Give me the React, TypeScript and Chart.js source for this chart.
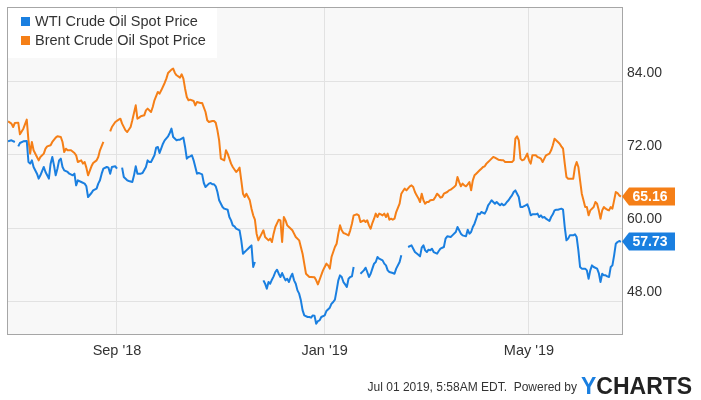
import React, { useEffect, useRef } from 'react';
import { Chart, registerables } from 'chart.js';

Chart.register(...registerables);

const FONT = "'Liberation Sans', Arial, Helvetica, sans-serif";

// x values are days counted from 2018-07-01 (day 0)
const START_DATE = '2018-07-01';

const seriesNames = ['WTI Crude Oil Spot Price', 'Brent Crude Oil Spot Price'];
const seriesColors = ['#1a7fe0', '#f57f17'];

const wtiDays = [
  -2, 0, 2, 3, 4, 5, 7, 9, 10, 11, 12, 13, 15, 16, 17, 19, 20, 21, 22, 23, 24, 25, 26, 27, 28, 29, 30,
  31, 33, 34, 36, 37, 38, 39, 41, 43, 44, 45, 47, 48, 50, 51, 52, 53, 54, 56, 57, 58, 59, 61,
  62, 63, 65, 66, 68, 69, 71, 72, 73, 74, 76, 77, 79, 80, 81, 82, 84, 85, 86, 87, 89, 90,
  92, 93, 94, 95, 97, 98, 99, 101, 102, 103, 104, 105, 106, 107, 108, 109, 110, 111, 112, 113, 114, 116, 117, 118, 119, 120, 121, 122,
  124, 125, 127, 128, 129, 130, 131, 132, 134, 135, 136, 137, 138, 139, 140, 141, 142, 143, 145, 148, 149, 150, 151, 152,
  153, 154, 155, 156, 157, 158, 159, 160, 161, 162, 163, 164, 165, 166, 167, 168, 169, 170, 171, 172, 174, 175, 176, 177, 178, 179, 180, 181, 182,
  184, 185, 187, 188, 189, 190, 191, 192, 193, 194, 195, 196, 197, 198, 199, 200, 201, 203, 205, 207, 208, 209, 210, 211, 212, 213, 214,
  215, 216, 218, 219, 220, 221, 222, 224, 225, 226, 228, 229, 231, 233, 235, 236, 237, 239, 240, 241, 242,
  243, 244, 245, 246, 247, 248, 250, 251, 252, 254, 255, 256, 258, 259, 261, 262, 263, 264, 265, 267, 268, 269, 270, 271, 272, 273,
  274, 275, 276, 278, 279, 280, 281, 282, 283, 284, 285, 286, 287, 288, 289, 290, 291, 292, 293, 294, 295, 296, 297, 298, 299, 300, 302, 303,
  304, 305, 306, 308, 309, 310, 311, 312, 313, 314, 316, 317, 318, 319, 320, 321, 323, 324, 325, 326, 327, 328, 330, 331, 332, 333, 334,
  335, 337, 338, 339, 340, 341, 342, 344, 345, 346, 347, 348, 349, 350, 351, 352, 353, 354, 355, 356, 357, 358,
];
const wtiPrices = [
  74.25, 74.41, 74.14, null, 73.42, 73.97, 74.25, 74.3, 70.85, 70.58, 71.12, 70.03, 68.93, 68.11, 68.66, 70.03, 69.21, 68.66, 68.11, 70.58, 71.67, 70.3, 68.66, 69.75, 71.12, 71.4, 70.03,
  69.48, 69.21, 68.93, 68.66, 68.93, 67.01, 67.84, 67.56, 67.29, 66.85, 65.1, 65.75, 66.19, 66.47, 67.29, 67.84, 68.93, 69.75, 70.03, 69.92, 68.93, 70.03, 70.14,
  69.75, null, 69.92, 68.38, 67.84, 67.73, 67.56, 68.66, 70.14, 68.93, 68.93, 69.04, 70.03, 71.12, 70.85, 70.85, 71.95, 73.21, 73.32, 72.33, 73.86, 74.41,
  75.07, 75.62, 76.33, 74.96, 74.41, 74.52, 74.52, 74.85, 73.32, 71.4, 71.67, 71.78, 71.95, 71.12, 70.03, 68.93, 69.04, 68.93, 68.82, 67.4, 66.74, 67.29, 67.4, 67.18, 67.18, 66.85, 65.92, 64.55,
  63.45, 63.18, 63.01, 61.81, 61.26, 60.44, 60.27, 59.89, 59.62, 57.97, 55.78, 56.05, 56.33, 56.6, 56.88, 57.15, 53.59, 54.41, null, 51.4, 50.85, 50.03, 51.12, 50.85,
  51.51, 52.05, 52.77, 53.15, 52.49, 51.95, 52.6, 51.95, 51.4, 51.67, 51.12, 51.95, 52.49, 51.4, 50.85, 49.75, 49.21, 48.11, 46.5, 45.64, 45.37, 45.37, 45.26, 45.64, 45.6, 44.27, 44.7, 44.82, 45.37,
  45.64, 46.36, 46.9, 47.56, 47.84, 48.22, 49.75, 51.4, 52.22, 51.95, 51.12, 50.74, 50.3, 51.67, 51.95, 52.05, 53.59, null, 52.49, 53.04, 53.48, 52.77, 51.95, 52.49, 53.32, 54.14, 54.41,
  55.23, 54.96, 54.68, 54.14, 53.86, 53.04, 52.77, 52.6, 52.49, 53.32, 54.41, 55.51, null, 56.88, 57.15, 56.6, 56.05, 55.6, 55.34, 56.77, 57.15,
  56.33, 56.05, 56.44, 56.33, 56.6, 56.05, 55.78, 56.22, 56.6, 56.88, 58.25, 58.63, 58.52, 58.79, 59.34, 60.16, 59.62, 59.07, 58.79, 58.63, 59.73, 59.07, 59.34, 60.16, 60.71, 61.53,
  62.36, 62.25, 62.63, 62.36, 62.9, 63.73, 64.11, 64.55, 64.27, 64.0, 64.27, 64.0, 63.73, 64.0, 63.73, 63.89, 64.27, 64.55, 64.99, 65.37, 65.92, 66.19, 65.64, 65.1, 63.45, 63.45, 63.73, 63.89,
  63.18, 62.08, 62.25, 62.25, 62.36, 61.81, 62.08, 61.7, 61.81, 61.53, 61.15, 61.81, 62.25, 62.9, 63.01, 63.01, 63.18, 63.01, 60.16, 57.97, 58.25, 58.79, 58.79, 58.96, 58.52, 56.33, 53.59,
  53.32, 53.32, 53.04, 51.67, 53.04, 53.86, 53.59, 53.32, 52.6, 51.12, 52.49, 52.22, 52.22, 52.05, 51.95, 53.59, 53.86, 55.51, 57.42, 57.7, 57.86, 57.73,
];

const brentDays = [
  -2, 0, 1, 2, 4, 5, 7, 9, 10, 11, 12, 13, 15, 16, 17, 19, 20, 21, 23, 24, 26, 27, 29, 30,
  31, 32, 33, 35, 37, 38, 39, 41, 42, 43, 44, 45, 47, 48, 50, 51, 52, 54, 56, 58, 59, 61,
  63, 64, 65, 67, 68, 70, 71, 73, 74, 75, 76, 78, 79, 80, 82, 83, 84, 86, 87, 88, 90, 91,
  92, 94, 95, 96, 97, 99, 100, 101, 102, 103, 104, 105, 107, 108, 109, 111, 112, 114, 115, 116, 118, 119, 120, 121, 122,
  123, 125, 126, 127, 129, 130, 132, 133, 134, 135, 136, 137, 138, 139, 140, 141, 142, 143, 144, 145, 147, 148, 149, 151, 152,
  153, 154, 155, 157, 158, 159, 160, 161, 162, 163, 165, 166, 167, 169, 170, 171, 172, 173, 175, 176, 178, 179, 180, 181, 183,
  184, 185, 186, 187, 188, 189, 190, 191, 192, 193, 194, 195, 196, 198, 199, 200, 201, 203, 204, 205, 207, 208, 209, 210, 211, 212, 213, 214,
  215, 216, 217, 218, 219, 220, 221, 222, 223, 224, 225, 226, 228, 229, 230, 231, 232, 234, 235, 236, 237, 238, 239, 240, 241, 242,
  243, 244, 245, 246, 248, 249, 250, 251, 252, 253, 254, 256, 257, 258, 260, 261, 262, 263, 264, 265, 266, 267, 268, 269, 270, 271, 272, 273,
  274, 275, 276, 277, 278, 279, 280, 281, 282, 283, 284, 285, 286, 288, 289, 290, 291, 293, 294, 295, 296, 297, 298, 299, 300, 301, 302, 303,
  304, 305, 306, 308, 309, 310, 311, 312, 313, 314, 316, 317, 318, 319, 321, 322, 323, 324, 325, 326, 327, 328, 330, 331, 332, 333, 334,
  335, 336, 337, 338, 339, 340, 342, 343, 344, 345, 346, 347, 348, 349, 350, 351, 352, 353, 354, 355, 356, 357, 358,
];
const brentPrices = [
  77.53, 77.15, 76.6, 77.26, 77.32, 75.4, 76.33, 77.81, 74.41, 72.22, 74.14, 72.77, 71.67, 71.12, 71.67, 72.22, 73.04, 73.42, 73.59, 74.14, 74.85, 75.07, 74.96, 74.14,
  72.49, 73.04, 72.77, 72.77, 72.33, 71.95, 70.85, 71.12, 70.58, 70.85, 69.92, 68.66, 70.14, 70.68, 71.12, 71.67, 72.77, 74.14, null, 75.9, 76.6, 77.42,
  77.81, 77.97, 77.15, 76.05, 75.78, 76.6, 77.7, 80.16, 77.97, 78.14, 78.36, 78.52, 79.34, 79.62, 79.07, 79.89, 80.99, 82.36, 82.08, 82.63, 83.84, 84.55,
  85.48, 86.03, 86.19, 85.48, 85.1, 84.71, 85.26, 84.55, 82.9, 81.53, 80.99, 81.1, 80.88, 80.16, 80.71, 80.55, 80.55, 79.07, 77.7, 77.42, 77.59, 77.59, 77.3, 76.05, 74.41,
  71.4, 71.12, 72.77, 72.22, 70.58, 70.03, 69.21, 69.48, 69.92, 67.84, 65.64, 65.1, 65.64, 65.1, 64.55, 63.18, 62.08, 61.37, 59.07, 57.97, 59.07, 59.62, 58.52, 57.97, 58.25,
  57.7, 59.07, 60.16, 61.37, 61.26, 57.7, 61.81, 61.26, 60.44, 60.16, 59.62, 59.07, 58.52, 57.97, 56.88, 55.78, 54.14, 52.49, 51.95, 51.95, 51.9, 51.4, 50.74, 51.5, 53.04,
  53.59, 54.14, 53.86, 53.32, 55.23, 56.05, 56.88, 57.42, 59.07, 60.44, 59.62, 59.18, 59.07, 58.79, 59.62, 60.71, 62.08, 62.25, 62.08, 60.99, 61.26, 60.99, 61.26, 60.44, 59.89, 60.82, 61.53, 62.36,
  61.81, 62.36, 62.25, 62.08, 62.36, 61.81, 62.36, 61.37, 61.53, 61.37, 61.53, 62.63, 64.0, 65.64, 66.08, 66.47, 66.19, 66.85, 67.01, 66.74, 65.92, 65.37, 64.9, 64.27, 65.64, 64.55,
  64.0, 64.27, 64.27, 64.55, 64.66, 65.1, 65.64, 65.37, 64.99, 65.1, 65.64, 65.92, 66.19, 66.3, 66.74, 67.01, 68.38, 67.56, 66.85, 67.29, 67.01, 66.85, 67.18, 67.56, 66.19, 67.84, 68.66, 68.93,
  69.21, 69.48, 69.75, 70.03, 70.14, 70.58, 70.85, 71.12, 71.4, 71.67, 71.56, 71.4, 71.23, 71.12, 71.12, 70.85, 70.85, 70.85, 70.85, 71.12, 74.68, 75.07, 74.41, 71.4, 71.12, 71.23, 71.67, 72.22,
  71.12, 70.58, 71.95, 71.95, 71.67, 71.56, 71.4, 70.85, 71.4, 71.95, 72.22, 72.77, 73.6, 74.68, 74.14, 73.86, 73.42, 73.04, 70.6, 68.38, 68.11, 68.11, 68.11, 70.03, 70.85, 70.03, 67.84,
  65.64, 64.55, 63.45, 63.45, 62.08, 62.9, 63.45, 64.27, 64.0, 62.9, 61.53, 62.9, 63.45, 63.18, 63.01, 62.9, 63.45, 63.18, 64.55, 65.92, 65.75, 65.37, 65.16,
];

const xTickDays = [62, 184, 304];
const xTickLabels = ["Sep '18", "Jan '19", "May '19"];
const yTicks = [48, 60, 72, 84];
const footerText = 'Jul 01 2019, 5:58AM EDT.  Powered by';
const logoParts = ['Y', 'CHARTS'];

const X_MIN = -2.02;
const X_MAX = 358.63;
const Y_MIN = 42.58;
const Y_MAX = 96.16;

const decorPlugin = {
  id: 'ychartsDecor',
  beforeDraw(chart: any) {
    const { ctx, chartArea: a } = chart;
    ctx.save();
    ctx.fillStyle = '#f8f8f8';
    ctx.fillRect(a.left, a.top, a.right - a.left, a.bottom - a.top);
    ctx.fillStyle = 'rgba(255,255,255,0.92)';
    ctx.fillRect(a.left, a.top, 209, 50);
    ctx.restore();
  },
  afterDraw(chart: any) {
    const { ctx, chartArea: a } = chart;
    ctx.save();
    // plot frame
    ctx.strokeStyle = '#a6a6a6';
    ctx.lineWidth = 1;
    ctx.strokeRect(a.left - 0.5, a.top - 0.5, a.right - a.left + 1, a.bottom - a.top + 1);

    // legend
    ctx.font = `14.5px ${FONT}`;
    ctx.textBaseline = 'middle';
    ctx.textAlign = 'left';
    chart.data.datasets.forEach((ds: any, i: number) => {
      const y = a.top + 13.5 + i * 19;
      ctx.fillStyle = ds.borderColor;
      ctx.fillRect(a.left + 13, y - 4.5, 9, 9);
      ctx.fillStyle = '#333';
      ctx.fillText(ds.label, a.left + 27, y + 0.5);
    });

    // last-value tags
    const ys = chart.scales.y;
    chart.data.datasets.forEach((ds: any) => {
      const pts = ds.data.filter((p: any) => p.y !== null);
      const last = pts[pts.length - 1].y;
      const y = Math.round(ys.getPixelForValue(last)) - 0.5;
      const x0 = a.right;
      ctx.fillStyle = ds.borderColor;
      ctx.beginPath();
      ctx.moveTo(x0, y);
      ctx.lineTo(x0 + 7, y - 9);
      ctx.lineTo(x0 + 53, y - 9);
      ctx.lineTo(x0 + 53, y + 9);
      ctx.lineTo(x0 + 7, y + 9);
      ctx.closePath();
      ctx.fill();
      ctx.font = `bold 14px ${FONT}`;
      ctx.fillStyle = '#ffffff';
      ctx.textAlign = 'left';
      ctx.textBaseline = 'middle';
      ctx.fillText(last.toFixed(2), x0 + 10.5, y + 1);
    });

    // footer
    ctx.textBaseline = 'alphabetic';
    ctx.textAlign = 'right';
    ctx.font = `12px ${FONT}`;
    ctx.fillStyle = '#333';
    ctx.fillText(footerText, 577, 391);
    ctx.textAlign = 'left';
    ctx.font = `bold 23px ${FONT}`;
    ctx.fillStyle = '#1a7fe0';
    ctx.fillText(logoParts[0], 581, 394);
    const w = ctx.measureText(logoParts[0]).width;
    ctx.fillStyle = '#222';
    ctx.fillText(logoParts[1], 581 + w, 394);
    ctx.restore();
  },
};

export default function App() {
  const ref = useRef<HTMLCanvasElement>(null);

  useEffect(() => {
    document.body.style.margin = '0';
    const canvas = ref.current;
    if (!canvas) return;
    const toPoints = (days: number[], prices: (number | null)[]) =>
      days.map((d, i) => ({ x: d, y: prices[i] }));

    const chart = new Chart(canvas, {
      type: 'line',
      data: {
        datasets: [
          {
            label: seriesNames[0],
            data: toPoints(wtiDays, wtiPrices) as any,
            borderColor: seriesColors[0],
            backgroundColor: seriesColors[0],
            borderWidth: 2,
            pointRadius: 0,
            tension: 0,
            spanGaps: false,
            borderJoinStyle: 'round',
          },
          {
            label: seriesNames[1],
            data: toPoints(brentDays, brentPrices) as any,
            borderColor: seriesColors[1],
            backgroundColor: seriesColors[1],
            borderWidth: 2,
            pointRadius: 0,
            tension: 0,
            spanGaps: false,
            borderJoinStyle: 'round',
          },
        ],
      },
      options: {
        animation: false,
        responsive: false,
        devicePixelRatio: 1,
        events: [],
        layout: { padding: { left: 8, top: 8, right: 0, bottom: 0 } },
        plugins: {
          legend: { display: false },
          tooltip: { enabled: false },
          title: { display: false },
        },
        scales: {
          x: {
            type: 'linear',
            min: X_MIN,
            max: X_MAX,
            afterBuildTicks: (s: any) => {
              s.ticks = xTickDays.map((v) => ({ value: v }));
            },
            afterFit: (s: any) => {
              s.height = 66;
              s.paddingLeft = 0;
              s.paddingRight = 0;
            },
            ticks: {
              autoSkip: false,
              maxRotation: 0,
              padding: 8,
              color: '#333',
              font: { family: FONT, size: 14.5 },
              callback: (v: any) => {
                const i = xTickDays.indexOf(Number(v));
                return i >= 0 ? xTickLabels[i] : '';
              },
            },
            grid: { color: '#e2e2e2', drawTicks: false },
            border: { display: false },
          },
          y: {
            type: 'linear',
            position: 'right',
            min: Y_MIN,
            max: Y_MAX,
            afterBuildTicks: (s: any) => {
              s.ticks = yTicks.map((v) => ({ value: v }));
            },
            afterFit: (s: any) => {
              s.width = 79;
              s.paddingTop = 0;
              s.paddingBottom = 0;
            },
            ticks: {
              padding: 5,
              color: '#333',
              font: { family: FONT, size: 14 },
              callback: (v: any) => [Number(v).toFixed(2), ''],
            },
            grid: { color: '#e2e2e2', drawTicks: false },
            border: { display: false },
          },
        },
      },
      plugins: [decorPlugin],
    });

    return () => chart.destroy();
  }, []);

  return (
    <div style={{ width: 701, height: 400, position: 'relative' }} data-start={START_DATE}>
      <canvas ref={ref} width={701} height={400} style={{ display: 'block', width: 701, height: 400 }} />
    </div>
  );
}
